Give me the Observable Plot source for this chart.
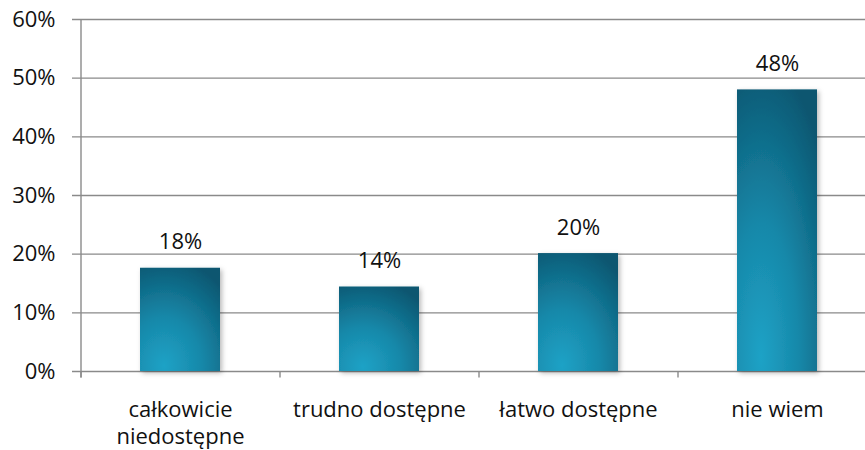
<!DOCTYPE html>
<html>
<head>
<meta charset="utf-8">
<script src="https://cdn.jsdelivr.net/npm/d3@7"></script>
<script src="https://cdn.jsdelivr.net/npm/@observablehq/plot@0.6"></script>
<style>
  html, body { margin: 0; padding: 0; background: #fff; }
  #chart { width: 865px; height: 450px; overflow: hidden; }
  svg { font-family: "Open Sans", sans-serif; }
</style>
</head>
<body>
<div id="chart"></div>
<script>
const categories = ["całkowicie niedostępne", "trudno dostępne", "łatwo dostępne", "nie wiem"];
const tickLabels = ["całkowicie\nniedostępne", "trudno dostępne", "łatwo dostępne", "nie wiem"];
const values = [17.6, 14.4, 20.1, 48.0];
const valueLabels = ["18%", "14%", "20%", "48%"];
const yTicks = [0, 10, 20, 30, 40, 50, 60];

const data = categories.map((c, i) => ({cat: c, value: values[i], label: valueLabels[i], tick: tickLabels[i]}));

const plot = Plot.plot({
  width: 865,
  height: 450,
  marginLeft: 80,
  marginRight: 0,
  marginTop: 19,
  marginBottom: 79,
  style: {fontFamily: "Open Sans, sans-serif", fontSize: "22px", color: "#111", background: "#fff", overflow: "visible"},
  x: {type: "band", domain: categories, range: [80, 876], paddingInner: 0.6, paddingOuter: 0.3, axis: null},
  y: {domain: [0, 60], axis: null},
  marks: [
    Plot.ruleY(yTicks, {stroke: "#8a8a8a", strokeWidth: 1.4, insetLeft: -8}),
    Plot.ruleX(categories, {x: d => d, y1: 0, y2: -1.1, dx: -99.5, stroke: "#8a8a8a", strokeWidth: 1.4}),
    Plot.ruleX([0], {x: () => categories[0], y1: 60, y2: -1.1, dx: -99.5, stroke: "#8a8a8a", strokeWidth: 1.4}),
    Plot.barY(data, {x: "cat", y: "value", fill: "url(#barGrad)"}),
    Plot.text(data, {x: "cat", y: "value", text: "label", dy: -26, fontSize: 22, fill: "#111"}),
    Plot.axisY({ticks: yTicks, tickFormat: d => d + "%", tickSize: 0, tickPadding: 25, fontSize: 22, anchor: "left", label: null}),
    Plot.text(data, {x: "cat", y: 0, text: "tick", dy: 26, lineAnchor: "top", lineHeight: 1.23, fontSize: 22, fill: "#111"})
  ]
});

const svg = d3.select(plot);
const defs = svg.insert("defs", ":first-child");
const rg = defs.append("radialGradient")
  .attr("id", "barGrad")
  .attr("cx", 0.3).attr("cy", 0.95).attr("r", 1.05)
  .attr("fx", 0.3).attr("fy", 0.95);
rg.append("stop").attr("offset", "0%").attr("stop-color", "#1ea2c6");
rg.append("stop").attr("offset", "45%").attr("stop-color", "#1788a9");
rg.append("stop").attr("offset", "100%").attr("stop-color", "#0a5670");
const f = defs.append("filter").attr("id", "shadow").attr("x", "-20%").attr("y", "-20%").attr("width", "150%").attr("height", "150%");
f.append("feDropShadow").attr("dx", 2).attr("dy", 2).attr("stdDeviation", 2.5).attr("flood-color", "#000").attr("flood-opacity", 0.28);
svg.selectAll("g[aria-label=bar] rect").attr("filter", "url(#shadow)");

document.getElementById("chart").appendChild(plot);
</script>
</body>
</html>
